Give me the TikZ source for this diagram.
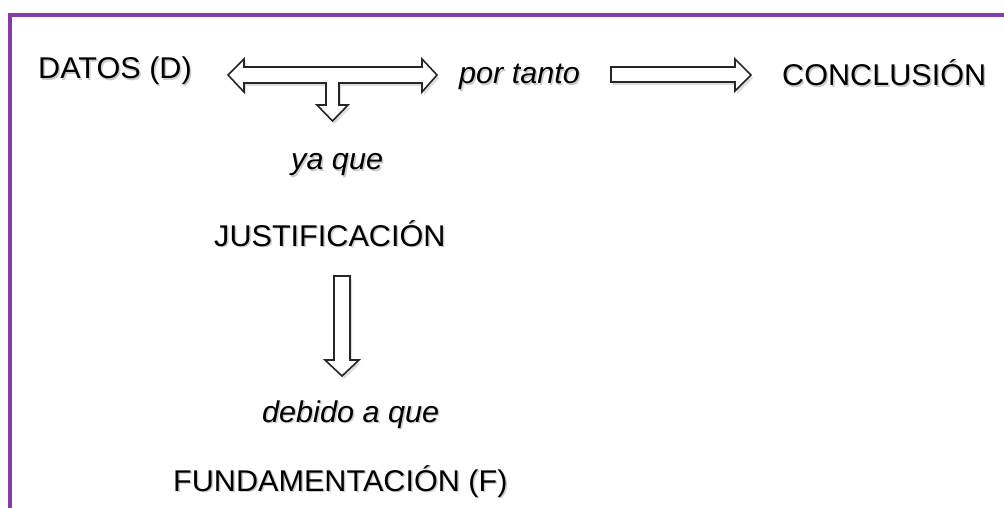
\documentclass[tikz,border=0pt]{standalone}
\usepackage{fontspec}
\setmainfont[FakeStretch=1.02]{Liberation Sans}
\usetikzlibrary{shadows}
\definecolor{framepurple}{RGB}{136,58,168}
\newcommand{\shtxt}[1]{\makebox[0pt][l]{\hspace{1.5pt}\raisebox{-1.5pt}{\textcolor{black!20}{#1}}}#1}
\tikzset{
  lbl/.style={inner sep=0pt, anchor=base west, font=\fontsize{30}{34}\selectfont},
  ilbl/.style={lbl, font=\fontsize{30}{34}\selectfont\itshape},
  blockarrow/.style={draw=black!85, fill=white, line width=1.6pt, line join=miter,
    drop shadow={shadow xshift=2pt, shadow yshift=-3pt, opacity=0.22, fill=black!60}},
  frameline/.style={draw=framepurple, line width=4pt}
}
\begin{document}
\begin{tikzpicture}[x=1pt,y=-1pt]
\useasboundingbox (0,0) rectangle (1004,508);
% frame
\draw[frameline] (9.5,508) -- (9.5,15) -- (1004,15);
% text nodes
\node[lbl]  (datos) at (38,79)  {\shtxt{DATOS (D)}};
\node[ilbl] (portanto) at (459,84) {\shtxt{por tanto}};
\node[lbl]  (concl) at (782,86) {\shtxt{CONCLUSIÓN}};
\node[ilbl] (yaque) at (291,170) {\shtxt{ya que}};
\node[lbl]  (just) at (214,246) {\shtxt{JUSTIFICACIÓN}};
\node[ilbl] (debido) at (262,422) {\shtxt{debido a que}};
\node[lbl]  (fund) at (173,491) {\shtxt{FUNDAMENTACIÓN (F)}};
% double arrow with downward branch (datos <-> por tanto, down to ya que)
\coordinate (dl) at (228,75);
\coordinate (dr) at (437,75);
\coordinate (dd) at (332.5,121);
\path[blockarrow] (dl) -- (244,59) -- (244,67) -- (422,67) -- (422,59) -- (dr)
  -- (422,92) -- (422,83) -- (339,83) -- (339,105) -- (348,105) -- (dd)
  -- (317,105) -- (326,105) -- (326,83) -- (244,83) -- (244,92) -- cycle;
% arrow por tanto -> conclusion
\coordinate (rs) at (611,75);
\coordinate (rt) at (751,75);
\path[blockarrow] (611,67) -- (735,67) -- (735,59) -- (rt) -- (735,91) -- (735,82) -- (611,82) -- cycle;
% arrow justificacion -> debido a que
\coordinate (vs) at (342,276);
\coordinate (vt) at (342,376);
\path[blockarrow] (334,276) -- (350,276) -- (350,360) -- (359,360) -- (vt) -- (325,360) -- (334,360) -- cycle;
\end{tikzpicture}
\end{document}
